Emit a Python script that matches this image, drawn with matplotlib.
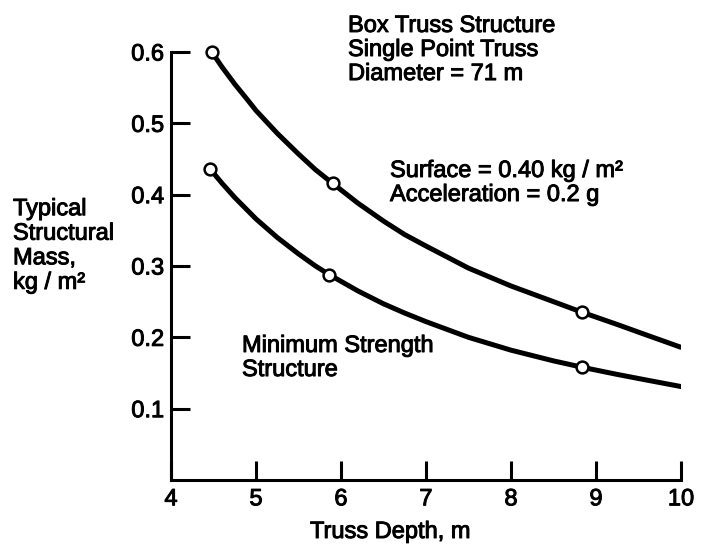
import matplotlib
matplotlib.use("Agg")
import matplotlib.pyplot as plt
import matplotlib.patheffects as pe

# Data
upper_x = [4.48, 4.6, 4.75, 4.9, 5.0, 5.25, 5.5, 5.7, 5.9, 6.2, 6.5, 6.75, 7.0, 7.5, 8.0, 8.5, 8.84, 9.25, 9.6, 10.0]
upper_y = [0.600, 0.579, 0.555, 0.533, 0.518, 0.486, 0.457, 0.435, 0.416, 0.388, 0.363, 0.344, 0.328, 0.297, 0.272, 0.250, 0.235, 0.218, 0.203, 0.186]
lower_x = [4.46, 4.6, 4.75, 4.9, 5.0, 5.25, 5.5, 5.7, 5.86, 6.2, 6.5, 6.75, 7.0, 7.5, 8.0, 8.5, 8.84, 9.25, 9.6, 10.0]
lower_y = [0.436, 0.416, 0.396, 0.378, 0.366, 0.340, 0.317, 0.300, 0.288, 0.265, 0.247, 0.234, 0.222, 0.200, 0.182, 0.167, 0.158, 0.148, 0.140, 0.131]
upper_pts_x = [4.48, 5.9, 8.84]
upper_pts_y = [0.600, 0.416, 0.235]
lower_pts_x = [4.46, 5.86, 8.84]
lower_pts_y = [0.436, 0.288, 0.158]
xticks = [4, 5, 6, 7, 8, 9, 10]
yticks = [0.1, 0.2, 0.3, 0.4, 0.5, 0.6]

plt.rcParams['font.family'] = ['Liberation Sans', 'DejaVu Sans']
FS = 17
EFF = [pe.withStroke(linewidth=0.7, foreground='black')]

W, H = 701, 545
fig = plt.figure(figsize=(W / 100, H / 100), dpi=100)
ax = fig.add_axes([171 / W, 1 - 480 / H, (681 - 171) / W, (480 - 52) / H])
ax.set_xlim(4, 10)
ax.set_ylim(0, 0.6)

lw = 3.6
ax.plot(upper_x, upper_y, color='black', lw=lw, solid_capstyle='round', solid_joinstyle='round', zorder=2)
ax.plot(lower_x, lower_y, color='black', lw=lw, solid_capstyle='round', solid_joinstyle='round', zorder=2)
mk = dict(marker='o', ms=8.5, mfc='white', mec='black', mew=1.8, ls='none', zorder=3, clip_on=False)
ax.plot(upper_pts_x, upper_pts_y, **mk)
ax.plot(lower_pts_x, lower_pts_y, **mk)

for s in ['top', 'right']:
    ax.spines[s].set_visible(False)
for s in ['left', 'bottom']:
    ax.spines[s].set_linewidth(2.2)
    ax.spines[s].set_capstyle('projecting')

ax.set_xticks(xticks)
ax.set_xticklabels([str(v) for v in xticks])
ax.set_yticks(yticks)
ax.set_yticklabels(['%.1f' % v for v in yticks])
ax.tick_params(axis='both', direction='in', length=13.5, width=2.2, labelsize=FS)
ax.tick_params(axis='x', pad=6)
ax.tick_params(axis='y', pad=5)
for lab in ax.get_xticklabels() + ax.get_yticklabels():
    lab.set_path_effects(EFF)

def ftext(x, y, s, ls=1.12):
    t = fig.text(x / W, 1 - y / H, s, fontsize=FS, va='center', ha='left',
                 linespacing=ls)
    t.set_path_effects(EFF)

ftext(310, 532, 'Truss Depth, m')
ftext(13, 246, 'Typical\nStructural\nMass,\nkg / m²', ls=1.15)
ftext(348, 50, 'Box Truss Structure\nSingle Point Truss\nDiameter = 71 m')
ftext(390, 183, 'Surface = 0.40 kg / m²\nAcceleration = 0.2 g')
ftext(242, 358, 'Minimum Strength\nStructure')

fig.savefig('out.png', dpi=100)
